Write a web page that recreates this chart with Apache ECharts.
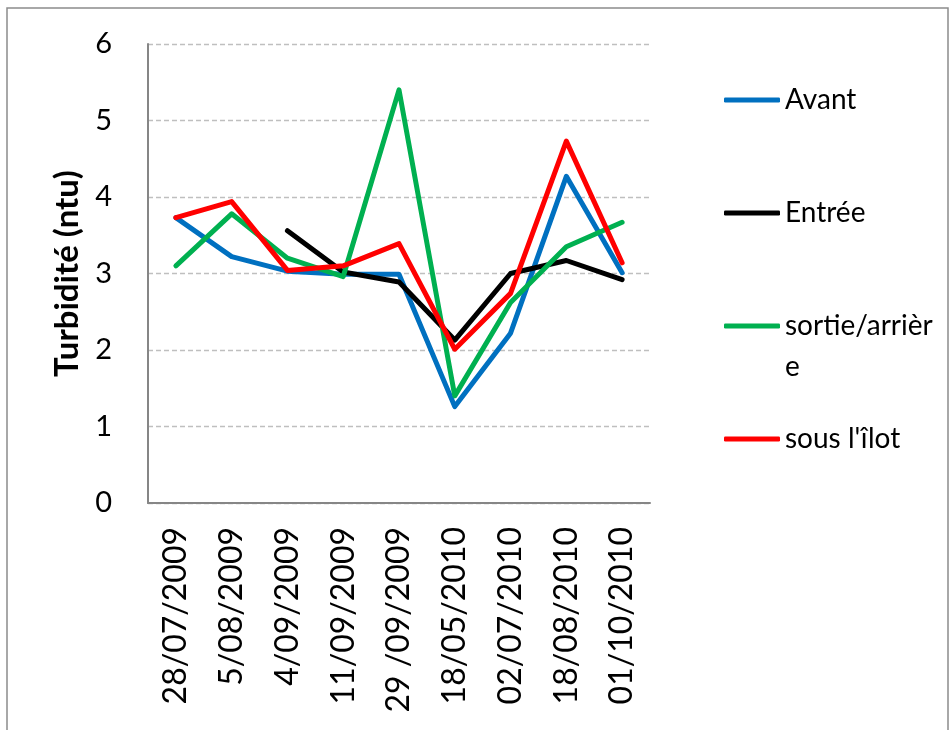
<!DOCTYPE html>
<html>
<head>
<meta charset="utf-8">
<script src="https://cdn.jsdelivr.net/npm/echarts@6/dist/echarts.min.js"></script>
<style>
  html, body { margin: 0; padding: 0; background: #fff; }
  #chart { width: 951px; height: 730px; }
</style>
</head>
<body>
<div id="chart"></div>
<script>
// Sampling dates
const dates = ['28/07/2009', '5/08/2009', '4/09/2009', '11/09/2009', '29 /09/2009',
               '18/05/2010', '02/07/2010', '18/08/2010', '01/10/2010'];

// Turbidity (ntu) at each station
const avant   = [3.73, 3.22, 3.03, 2.99, 2.99, 1.26, 2.22, 4.27, 3.01];
const entree  = [null, null, 3.56, 3.02, 2.89, 2.13, 3.00, 3.17, 2.92];
const sortie  = [3.10, 3.78, 3.20, 2.96, 5.40, 1.40, 2.62, 3.35, 3.67];
const sousIlot = [3.73, 3.94, 3.04, 3.10, 3.39, 2.01, 2.74, 4.73, 3.14];

const yTicks = [0, 1, 2, 3, 4, 5, 6];

const seriesDefs = [
  { name: 'Avant', data: avant, color: '#0070C0' },
  { name: 'Entrée', data: entree, color: '#000000' },
  { name: 'sortie/arrière', data: sortie, color: '#00B050' },
  { name: "sous l'îlot", data: sousIlot, color: '#FF0000' }
];

const FONT = 'Lato';
const legendCentres = [100, 213, 326, 439];

const chart = echarts.init(document.getElementById('chart'), null, { renderer: 'canvas' });

// One legend block per station so each entry sits at its own height
const legends = seriesDefs.map((s, i) => {
  const wrapped = s.name === 'sortie/arrière';
  const lh = wrapped ? 41 : 36;
  const h = wrapped ? lh * 3 : lh;
  return {
    data: [s.name],
    orient: 'vertical',
    left: 724,
    top: legendCentres[i] - h / 2,
    padding: 0,
    icon: 'roundRect',
    itemWidth: 56,
    itemHeight: 5,
    itemGap: 0,
    selectedMode: false,
    formatter: wrapped ? ' \nsortie/arrièr\ne' : '{name}',
    textStyle: { fontFamily: FONT, fontSize: 28, color: '#000', lineHeight: lh }
  };
});

chart.setOption({
  animation: false,
  backgroundColor: '#fff',
  grid: { left: 148, right: 301, top: 44, bottom: 227, containLabel: false },
  legend: legends,
  xAxis: {
    type: 'category',
    data: dates,
    boundaryGap: true,
    axisLine: { lineStyle: { color: '#868686', width: 2 } },
    axisTick: { show: false },
    axisLabel: {
      rotate: 90,
      margin: 24,
      interval: 0,
      fontFamily: FONT,
      fontSize: 32,
      color: '#000'
    },
    splitLine: { show: false }
  },
  yAxis: {
    type: 'value',
    min: yTicks[0],
    max: yTicks[yTicks.length - 1],
    interval: 1,
    name: 'Turbidité (ntu)',
    nameLocation: 'middle',
    nameGap: 64,
    nameRotate: 90,
    nameTextStyle: { fontFamily: FONT, fontSize: 33, fontWeight: 'bold', color: '#000' },
    axisLine: { show: true, lineStyle: { color: '#868686', width: 2 } },
    axisTick: { show: false },
    axisLabel: { margin: 36, fontFamily: FONT, fontSize: 29, color: '#000' },
    splitLine: { show: true, lineStyle: { color: '#BFBFBF', width: 1.3, type: [5, 3] } }
  },
  series: seriesDefs.map(s => ({
    name: s.name,
    type: 'line',
    data: s.data,
    symbol: 'none',
    connectNulls: false,
    color: s.color,
    itemStyle: { color: s.color },
    lineStyle: { color: s.color, width: 5, cap: 'round', join: 'round' }
  })),
  graphic: [{
    type: 'rect',
    shape: { x: 7, y: 8, width: 941, height: 740 },
    style: { fill: null, stroke: '#8C8C8C', lineWidth: 1.5 },
    silent: true,
    z: -1
  }]
});
</script>
</body>
</html>
